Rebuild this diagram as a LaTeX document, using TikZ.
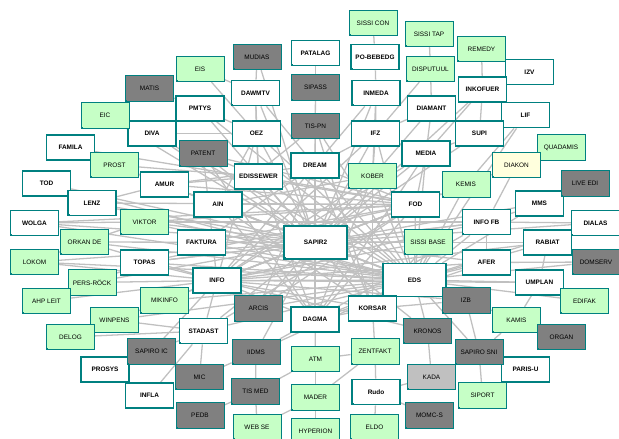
\documentclass[tikz,border=0pt]{standalone}
\usepackage{fontspec}
\setsansfont{Liberation Sans}
\usetikzlibrary{backgrounds}

\definecolor{boxline}{RGB}{0,128,128}
\definecolor{newfill}{RGB}{198,255,198}
\definecolor{oldfill}{RGB}{128,128,128}
\definecolor{extfill}{RGB}{192,192,192}
\definecolor{testfill}{RGB}{255,255,221}
\definecolor{linkgray}{RGB}{192,192,192}

\begin{document}
\begin{tikzpicture}[
    x=0.3mm, y=-0.3mm,
    every node/.style={
        font=\sffamily\fontsize{5.5}{6}\selectfont,
        align=center
    },
    sysbox/.style={
        rectangle,
        draw=boxline,
        minimum width=14.4mm,
        minimum height=7.6mm,
        inner sep=0pt,
        path picture={
            \fill[boxline] (path picture bounding box.south west)
                rectangle ++(1.4pt,1.4pt);
        }
    },
    appbox/.style={
        sysbox,
        fill=white,
        line width=1.2pt,
        font=\sffamily\bfseries\fontsize{5.5}{6}\selectfont
    },
    bigbox/.style={
        appbox,
        minimum width=18.9mm,
        minimum height=9.8mm
    },
    newbox/.style={
        sysbox,
        fill=newfill,
        line width=0.8pt
    },
    oldbox/.style={
        sysbox,
        fill=oldfill,
        line width=0.8pt
    },
    extbox/.style={
        sysbox,
        fill=extfill,
        line width=0.8pt
    },
    testbox/.style={
        sysbox,
        fill=testfill,
        line width=0.8pt
    },
    link/.style={
        draw=linkgray,
        line width=1.1pt
    }
]

\useasboundingbox (0,0) rectangle (619,439);

% ============================================================
% Core
% ============================================================

\node[bigbox] (sapir) at (315.5,242.5) {SAPIR2};
\node[bigbox] (eds)   at (414.5,280)   {EDS};

% ============================================================
% In-house systems (white)
% ============================================================

\node[appbox] (pmtys)   at (200,108.5)   {PMTYS};
\node[appbox] (diva)    at (152,133.5)   {DIVA};
\node[appbox] (famila)  at (70.5,147.5)  {FAMILA};
\node[appbox] (patalag) at (315.5,53)    {PATALAG};
\node[appbox] (pobeb)   at (375,57)      {PO-BEBEDG};
\node[appbox] (dawmtv)  at (255.5,93)    {DAWMTV};
\node[appbox] (inmeda)  at (376,93)      {INMEDA};
\node[appbox] (oez)     at (256.5,133.5) {OEZ};
\node[appbox] (ifz)     at (375.5,133.5) {IFZ};
\node[appbox] (diamant) at (431.5,108.5) {DIAMANT};
\node[appbox] (izv)     at (529.5,72)    {IZV};
\node[appbox] (inkof)   at (482.5,89.5)  {INKOFUER};
\node[appbox] (lif)     at (525.5,115)   {LIF};
\node[appbox] (supi)    at (479.5,133.5) {SUPI};
\node[appbox] (media)   at (426,153.5)   {MEDIA};
\node[appbox] (tod)     at (46.5,183.5)  {TOD};
\node[appbox] (amur)    at (164.5,184.5) {AMUR};
\node[appbox] (lenz)    at (92,203)      {LENZ};
\node[appbox] (wolga)   at (34.5,223)    {WOLGA};
\node[appbox] (faktura) at (201.5,242.5) {FAKTURA};
\node[appbox] (topas)   at (144.5,262.5) {TOPAS};
\node[appbox] (ain)     at (218,204.5)   {AIN};
\node[appbox] (edissew) at (258.5,176.5) {EDISSEWER};
\node[appbox] (dream)   at (315,165.5)   {DREAM};
\node[appbox] (fod)     at (415.5,204.5) {FOD};
\node[appbox] (info)    at (217,280.5)   {INFO};
\node[appbox] (mms)     at (539.5,203.5) {MMS};
\node[appbox] (infofb)  at (486.5,222)   {INFO FB};
\node[appbox] (dialas)  at (595.5,223)   {DIALAS};
\node[appbox] (rabiat)  at (547.5,242.5) {RABIAT};
\node[appbox] (afer)    at (486.5,262.5) {AFER};
\node[appbox] (umplan)  at (539.5,282.5) {UMPLAN};
\node[appbox] (stadast) at (203.5,331)   {STADAST};
\node[appbox] (prosys)  at (105,369.5)   {PROSYS};
\node[appbox] (infla)   at (149.5,395.5) {INFLA};
\node[appbox] (korsar)  at (372.5,308.5) {KORSAR};
\node[appbox] (dagma)   at (315,319.5)   {DAGMA};
\node[appbox] (rudo)    at (376,392)     {Rudo};
\node[appbox] (parisu)  at (525.5,369.5) {PARIS-U};

% ============================================================
% Planned systems (green)
% ============================================================

\node[newbox] (eis)      at (200,69)      {EIS};
\node[newbox] (eic)      at (105,115.5)   {EIC};
\node[newbox] (sisscon)  at (373,23)      {SISSI CON};
\node[newbox] (sisstap)  at (429,34)      {SISSI TAP};
\node[newbox] (disput)   at (430.5,69)    {DISPUTUUL};
\node[newbox] (remedy)   at (481.5,49)    {REMEDY};
\node[newbox] (quadamis) at (561,147.5)   {QUADAMIS};
\node[newbox] (prost)    at (114.5,165)   {PROST};
\node[newbox] (kober)    at (372.5,176)   {KOBER};
\node[newbox] (kemis)    at (466,184.5)   {KEMIS};
\node[newbox] (viktor)   at (144.5,222)   {VIKTOR};
\node[newbox] (orkan)    at (84.5,242)    {ORKAN DE};
\node[newbox] (lokom)    at (34.5,262)    {LOKOM};
\node[newbox] (persrock) at (92,282.5)    {PERS-RÖCK};
\node[newbox] (sissbase) at (428,242)     {SISSI BASE};
\node[newbox] (ahpleit)  at (46.5,301)    {AHP LEIT};
\node[newbox] (mikinfo)  at (164.5,300.5) {MIKINFO};
\node[newbox] (winpens)  at (114.5,320)   {WINPENS};
\node[newbox] (delog)    at (70.5,337)    {DELOG};
\node[newbox] (edifak)   at (584.5,301)   {EDIFAK};
\node[newbox] (kamis)    at (516.5,320)   {KAMIS};
\node[newbox] (atm)      at (315.5,359)   {ATM};
\node[newbox] (zentfakt) at (375,351.5)   {ZENTFAKT};
\node[newbox] (mader)    at (315.5,397.5) {MADER};
\node[newbox] (webse)    at (257,427)     {WEB SE};
\node[newbox] (hyperion) at (315.5,431)   {HYPERION};
\node[newbox] (eldo)     at (374.5,427)   {ELDO};
\node[newbox] (siport)   at (482.5,395.5) {SIPORT};

% ============================================================
% Legacy systems (gray)
% ============================================================

\node[oldbox] (matis)     at (149.5,88.5)  {MATIS};
\node[oldbox] (mudias)    at (257,57)      {MUDIAS};
\node[oldbox] (sipass)    at (315.5,87.5)  {SIPASS};
\node[oldbox] (tispn)     at (315.5,126)   {TIS-PN};
\node[oldbox] (patent)    at (203,153.5)   {PATENT};
\node[oldbox] (liveedi)   at (585,183.5)   {LIVE EDI};
\node[oldbox] (domserv)   at (596,262)     {DOMSERV};
\node[oldbox] (arcis)     at (258.5,308.5) {ARCIS};
\node[oldbox] (izb)       at (466,300.5)   {IZB};
\node[oldbox] (iidms)     at (256,352)     {IIDMS};
\node[oldbox] (sapiroic)  at (151.5,351.5) {SAPIRO IC};
\node[oldbox] (mic)       at (199.5,377)   {MIC};
\node[oldbox] (pedb)      at (200,415.5)   {PEDB};
\node[oldbox] (tismed)    at (255.5,391.5) {TIS MED};
\node[oldbox] (kronos)    at (427.5,331)   {KRONOS};
\node[oldbox] (organ)     at (561.5,337)   {ORGAN};
\node[oldbox] (sapirosni) at (479,352)     {SAPIRO SNI};
\node[oldbox] (momcs)     at (429.5,415.5) {MOMC-S};

\node[extbox]  (kada)   at (431.5,377) {KADA};
\node[testbox] (diakon) at (516.5,165) {DIAKON};

% ============================================================
% Interfaces
% ============================================================

\begin{scope}[on background layer]
\foreach \a/\b in {
    sisscon/pobeb, patalag/sipass, sipass/tispn, sisstap/disput,
    disput/diamant, disput/ifz, remedy/inkof, izv/inkof, mudias/dawmtv,
    matis/pmtys, eis/dawmtv, eis/oez, pmtys/oez, diva/oez, eic/diva,
    dawmtv/oez, dawmtv/dream, dawmtv/edissew, inmeda/ifz, inmeda/dream,
    inmeda/kober, pobeb/inmeda, diamant/supi, inkof/supi, inkof/media,
    lif/supi, lif/kemis, supi/media, diamant/media, diamant/ifz,
    ifz/dream, ifz/kober, ifz/sapir, oez/sapir, tispn/dream, tispn/sapir,
    oez/edissew, oez/ain, patent/edissew, patent/sapir, patent/fod,
    diva/sapir, famila/prost, prost/amur, prost/sapir, tod/lenz,
    lenz/amur, lenz/sapir, amur/sapir, amur/fod, wolga/viktor,
    wolga/sapir, orkan/viktor, orkan/sapir, lokom/orkan, lokom/sapir,
    viktor/sapir, viktor/eds, persrock/topas, persrock/sapir,
    ahpleit/persrock, mikinfo/info, mikinfo/sapir, winpens/sapir,
    winpens/stadast, delog/stadast, topas/sapir, topas/eds,
    faktura/sapir, faktura/eds, ain/sapir, ain/fod, ain/kober,
    edissew/sapir, edissew/eds, dream/sapir, dream/eds, kober/sapir,
    kober/eds, media/sapir, media/fod, kemis/fod, kemis/sapir,
    diakon/kemis, diakon/infofb, quadamis/diakon, liveedi/mms,
    mms/infofb, mms/sapir, infofb/sapir, infofb/afer, infofb/eds,
    dialas/sapir, dialas/infofb, rabiat/umplan, rabiat/sapir,
    rabiat/eds, domserv/afer, domserv/eds, afer/sapir, afer/eds,
    umplan/kamis, umplan/eds, edifak/eds, sissbase/sapir, sissbase/eds,
    fod/sapir, fod/eds, info/sapir, info/eds, info/stadast,
    stadast/sapir, stadast/eds, sapiroic/stadast, sapiroic/info,
    infla/stadast, mic/stadast, mic/iidms, pedb/tismed, tismed/iidms,
    tismed/atm, iidms/dagma, iidms/sapir, arcis/sapir, arcis/eds,
    dagma/atm, dagma/sapir, dagma/eds, atm/mader, mader/hyperion,
    atm/zentfakt, zentfakt/mader, zentfakt/rudo, rudo/eldo,
    zentfakt/korsar, korsar/sapir, korsar/eds, korsar/dagma,
    kronos/eds, kronos/sapir, kronos/kada, izb/eds, izb/sapir,
    izb/sapirosni, kamis/sapirosni, kamis/izb, organ/kamis,
    sapirosni/siport, sapirosni/kada, sapirosni/eds, kada/rudo,
    momcs/rudo, parisu/sapirosni, webse/tismed, webse/mader,
    wolga/fod, lenz/eds, amur/eds, viktor/infofb, orkan/eds,
    lokom/info, persrock/info, ahpleit/info, dream/korsar, dream/dagma,
    edissew/dagma, kober/dagma, ain/korsar, fod/info, fod/dagma,
    media/info, infofb/topas, sissbase/faktura, afer/info, kemis/info,
    tod/sapir, famila/fod, eic/sapir, pmtys/eds, supi/sapir,
    lif/eds, inkof/sapir, diamant/sapir, tispn/eds, mudias/sapir,
    prost/edissew, prost/ain, amur/edissew, amur/dream, lenz/fod,
    tod/eds, wolga/eds, viktor/fod, orkan/info, lokom/eds, topas/fod,
    topas/info, faktura/fod, faktura/dream, ain/eds, ain/dagma,
    edissew/fod, edissew/korsar, dream/fod, dream/info, kober/info,
    kober/korsar, media/eds, media/dagma, kemis/eds, infofb/info,
    infofb/dagma, sissbase/info, sissbase/korsar, afer/dagma,
    rabiat/info, dialas/eds, mms/eds, umplan/info, izb/info,
    izb/korsar, kronos/info, arcis/fod, arcis/dream, iidms/eds,
    stadast/fod, mikinfo/eds, winpens/eds, info/korsar, info/dagma,
    ifz/eds, ifz/info, oez/eds, oez/info, dawmtv/sapir, inmeda/sapir,
    pmtys/sapir, diva/eds, patent/info, patent/dagma, tispn/ain,
    tispn/korsar, sipass/dream}
    \draw[link] (\a) -- (\b);
\end{scope}

\end{tikzpicture}
\end{document}
